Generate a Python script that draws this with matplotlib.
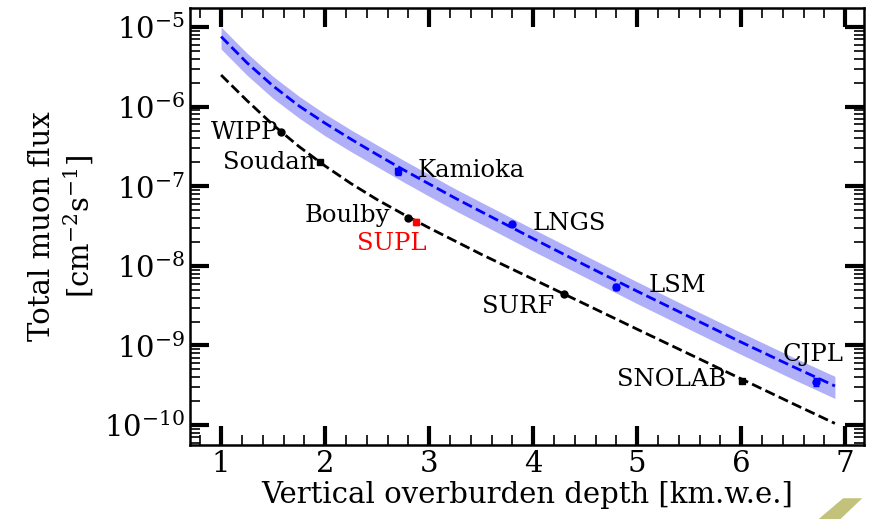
import matplotlib
matplotlib.use('Agg')
import matplotlib.pyplot as plt
from matplotlib.patches import Polygon

plt.rcParams['font.family'] = 'DejaVu Serif'
plt.rcParams['mathtext.fontset'] = 'dejavuserif'

# model curves
depth_grid = [1.0, 1.25, 1.5, 1.75, 2.0, 2.25, 2.5, 2.75, 3.0, 3.25, 3.5,
              4.0, 4.5, 5.0, 5.5, 6.0, 6.5, 6.9]
flux_mountain = [7.6e-6, 3.55e-6, 1.82e-6, 1.02e-6, 6.2e-7, 3.9e-7, 2.5e-7, 1.62e-7,
                 1.07e-7, 7.1e-8, 4.8e-8, 2.2e-8, 1.02e-8, 4.8e-9, 2.3e-9, 1.1e-9,
                 5.4e-10, 3.1e-10]
flux_mountain_hi = [1.0e-5, 4.7e-6, 2.4e-6, 1.35e-6, 8.1e-7, 5.1e-7, 3.3e-7, 2.14e-7,
                    1.41e-7, 9.3e-8, 6.3e-8, 2.9e-8, 1.35e-8, 6.3e-9, 3.0e-9, 1.45e-9,
                    7.1e-10, 4.1e-10]
flux_mountain_lo = [5.3e-6, 2.48e-6, 1.27e-6, 7.2e-7, 4.3e-7, 2.72e-7, 1.76e-7, 1.14e-7,
                    7.5e-8, 4.95e-8, 3.35e-8, 1.53e-8, 7.2e-9, 3.35e-9, 1.6e-9, 7.7e-10,
                    3.76e-10, 2.16e-10]
flux_flat = [2.5e-6, 1.19e-6, 5.9e-7, 3.15e-7, 1.8e-7, 1.08e-7, 6.8e-8, 4.47e-8,
             3.0e-8, 2.05e-8, 1.4e-8, 6.8e-9, 3.3e-9, 1.6e-9, 7.8e-10, 3.8e-10,
             1.85e-10, 1.05e-10]

# labs under flat overburden (black)
flat_labs = ['WIPP', 'Soudan', 'Boulby', 'SURF', 'SNOLAB']
flat_depth = [1.58, 1.95, 2.80, 4.30, 6.01]
flat_flux = [4.8e-7, 2.0e-7, 4.0e-8, 4.4e-9, 3.6e-10]
flat_err = [0.2e-7, 0.1e-7, 0.2e-8, 0.2e-9, 0.2e-10]
flat_marker = ['o', 's', 'o', 'o', 's']

# labs under mountains (blue)
mount_labs = ['Kamioka', 'LNGS', 'LSM', 'CJPL']
mount_depth = [2.70, 3.80, 4.80, 6.72]
mount_flux = [1.55e-7, 3.4e-8, 5.5e-9, 3.5e-10]
mount_err = [0.15e-7, 0.1e-8, 0.5e-9, 0.4e-10]
mount_marker = ['s', 'o', 'o', 'o']

supl_depth = 2.87
supl_flux = 3.6e-8
supl_err = 0.3e-8

fig = plt.figure(figsize=(8.71, 5.19), dpi=100)
ax = fig.add_axes([0.218, 0.1426, 0.774, 0.842])

ax.fill_between(depth_grid, flux_mountain_lo, flux_mountain_hi, color='#b0b0f8', lw=0)
ax.plot(depth_grid, flux_mountain, 'b--', lw=2)
ax.plot(depth_grid, flux_flat, 'k--', lw=2)

for d, f, e, m in zip(flat_depth, flat_flux, flat_err, flat_marker):
    ax.errorbar(d, f, yerr=e, fmt=m, color='k', ms=5, capsize=2, elinewidth=1.5)
for d, f, e, m in zip(mount_depth, mount_flux, mount_err, mount_marker):
    ax.errorbar(d, f, yerr=e, fmt=m, color='b', ms=5, capsize=2, elinewidth=1.5)
ax.errorbar(supl_depth, supl_flux, yerr=supl_err, fmt='s', color='r', ms=5, capsize=2, elinewidth=1.5)

fs = 17.5
ax.text(1.55, 4.8e-7, 'WIPP', fontsize=fs, ha='right', va='center')
ax.text(1.91, 2.0e-7, 'Soudan', fontsize=fs, ha='right', va='center')
ax.text(2.89, 1.6e-7, 'Kamioka', fontsize=fs, ha='left', va='center')
ax.text(2.62, 4.3e-8, 'Boulby', fontsize=fs, ha='right', va='center')
ax.text(2.31, 1.9e-8, 'SUPL', fontsize=fs, ha='left', va='center', color='r')
ax.text(3.99, 3.4e-8, 'LNGS', fontsize=fs, ha='left', va='center')
ax.text(3.51, 3.1e-9, 'SURF', fontsize=fs, ha='left', va='center')
ax.text(5.11, 5.7e-9, 'LSM', fontsize=fs, ha='left', va='center')
ax.text(4.81, 3.7e-10, 'SNOLAB', fontsize=fs, ha='left', va='center')
ax.text(6.40, 7.6e-10, 'CJPL', fontsize=fs, ha='left', va='center')

ax.set_yscale('log')
ax.set_xlim(0.70, 7.18)
ax.set_ylim(10**-10.25, 10**-4.76)
ax.set_xticks([1, 2, 3, 4, 5, 6, 7])
ax.xaxis.set_minor_locator(matplotlib.ticker.MultipleLocator(0.2))

ax.tick_params(which='both', direction='in', top=True, right=True, labelsize=21)
ax.tick_params(which='major', length=14, width=3)
ax.tick_params(which='minor', length=7, width=1.2)
for s in ax.spines.values():
    s.set_linewidth(1.8)

ax.set_xlabel('Vertical overburden depth [km.w.e.]', fontsize=21, labelpad=2)
ax.set_ylabel('Total muon flux\n[cm$^{-2}$s$^{-1}$]', fontsize=21, labelpad=6)

# stray bit of a neighbouring picture at the bottom right corner
fig.patches.append(Polygon([(0.940, 0.0), (0.965, 0.0), (0.990, 0.040), (0.968, 0.040)],
                           closed=True, transform=fig.transFigure, color='#c2c27a', lw=0))

fig.savefig('out.png', dpi=100)
